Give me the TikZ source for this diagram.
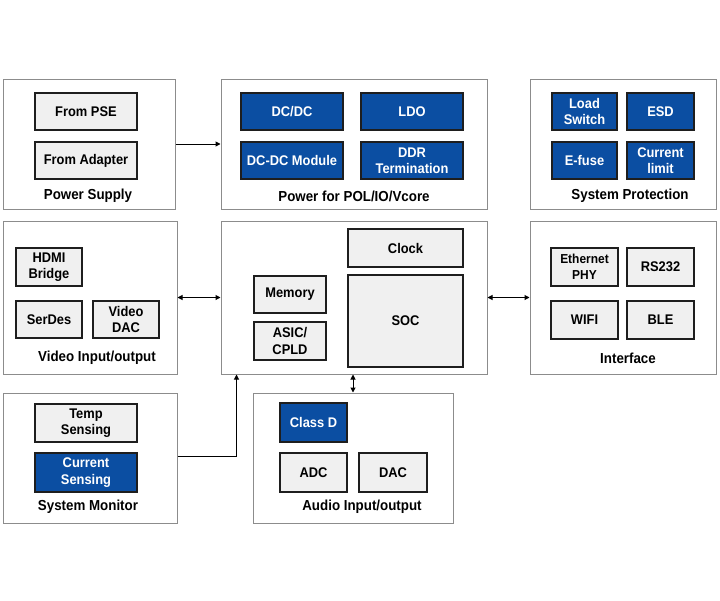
\documentclass[tikz,border=0pt]{standalone}
\usepackage{fontspec}
\setmainfont{Liberation Sans}[FakeStretch=0.92]
\usetikzlibrary{arrows.meta}
\definecolor{tiblue}{HTML}{0B4EA2}
\definecolor{boxgray}{HTML}{F0F0F0}
\definecolor{outline}{HTML}{8C8C8C}
\definecolor{inline}{HTML}{1E1E1E}
\tikzset{
  group/.style={draw=outline, line width=1pt, fill=white, rectangle, inner sep=0pt},
  graybox/.style={draw=inline, line width=1.5pt, fill=boxgray, rectangle, inner sep=0pt, align=center,
    font=\fontsize{14}{16.5}\selectfont\bfseries, text=black},
  bluebox/.style={draw=inline, line width=1.5pt, fill=tiblue, rectangle, inner sep=0pt, align=center,
    font=\fontsize{14}{16.5}\selectfont\bfseries, text=white},
  grouplabel/.style={font=\fontsize{14.5}{16}\selectfont\bfseries, text=black, inner sep=0pt},
  conn/.style={draw=black, line width=1pt, -{Triangle[length=5pt,width=5pt]}},
  dconn/.style={draw=black, line width=1pt, {Triangle[length=5pt,width=5pt]}-{Triangle[length=5pt,width=5pt]}}
}
\begin{document}
\begin{tikzpicture}[x=1pt,y=-1pt]
\useasboundingbox[fill=white] (0,0) rectangle (720,600);

% Power supply
\node[group, minimum width=172, minimum height=130] (ps) at (89,144) {};
\node[graybox, minimum width=102, minimum height=37] (pse) at (86,111.5) {From PSE};
\node[graybox, minimum width=102, minimum height=37] (adapter) at (86,160.5) {From Adapter};
\node[grouplabel] (pslabel) at (88,196) {Power Supply};

% Power for POL
\node[group, minimum width=266, minimum height=130] (pol) at (354,144) {};
\node[bluebox, minimum width=102, minimum height=37] (dcdc) at (292,111.5) {DC/DC};
\node[bluebox, minimum width=102, minimum height=37] (ldo) at (412,111.5) {LDO};
\node[bluebox, minimum width=102, minimum height=37] (dcdcmod) at (292,160.5) {DC-DC Module};
\node[bluebox, minimum width=102, minimum height=37] (ddr) at (412,160.5) {DDR\\Termination};
\node[grouplabel] (pollabel) at (354,196) {Power for POL/IO/Vcore};

% System protection
\node[group, minimum width=186, minimum height=130] (sp) at (623,144) {};
\node[bluebox, minimum width=65, minimum height=37] (load) at (584.5,111.5) {Load\\Switch};
\node[bluebox, minimum width=67, minimum height=37] (esd) at (660.5,111.5) {ESD};
\node[bluebox, minimum width=65, minimum height=37] (efuse) at (584.5,160.5) {E-fuse};
\node[bluebox, minimum width=67, minimum height=37] (curlim) at (660.5,160.5) {Current\\limit};
\node[grouplabel] (splabel) at (630,196) {System Protection};

% Video
\node[group, minimum width=174, minimum height=153] (video) at (90,297.5) {};
\node[graybox, minimum width=66, minimum height=38] (hdmi) at (49,267) {HDMI\\Bridge};
\node[graybox, minimum width=66, minimum height=37] (serdes) at (49,319.5) {SerDes};
\node[graybox, minimum width=66, minimum height=37] (vdac) at (126,319.5) {Video\\DAC};
\node[grouplabel] (videolabel) at (97,358) {Video Input/output};

% Center
\node[group, minimum width=266, minimum height=153] (center) at (354,297.5) {};
\node[graybox, minimum width=115, minimum height=38] (clock) at (405.5,248) {Clock};
\node[graybox, minimum width=115, minimum height=92] (soc) at (405.5,321) {SOC};
\node[graybox, minimum width=72, minimum height=37] (memory) at (290,294.5) {Memory};
\node[graybox, minimum width=72, minimum height=38] (asic) at (290,341) {ASIC/\\CPLD};

% Interface
\node[group, minimum width=186, minimum height=153] (iface) at (623,297.5) {};
\node[graybox, minimum width=67, minimum height=38, font=\fontsize{13}{16}\selectfont\bfseries] (eth) at (584.5,267) {Ethernet\\PHY};
\node[graybox, minimum width=67, minimum height=38] (rs232) at (660.5,267) {RS232};
\node[graybox, minimum width=67, minimum height=38] (wifi) at (584.5,320) {WIFI};
\node[graybox, minimum width=67, minimum height=38] (ble) at (660.5,320) {BLE};
\node[grouplabel] (ifacelabel) at (628,358) {Interface};

% System monitor
\node[group, minimum width=174, minimum height=130] (sm) at (90,458) {};
\node[graybox, minimum width=102, minimum height=38] (temp) at (86,423) {Temp\\Sensing};
\node[bluebox, minimum width=102, minimum height=39] (cursens) at (86,472.5) {Current\\Sensing};
\node[grouplabel] (smlabel) at (88,507) {System Monitor};

% Audio
\node[group, minimum width=200, minimum height=130] (audio) at (353,458) {};
\node[bluebox, minimum width=67, minimum height=39] (classd) at (313.5,422.5) {Class D};
\node[graybox, minimum width=67, minimum height=39] (adc) at (313.5,472.5) {ADC};
\node[graybox, minimum width=68, minimum height=39] (dac) at (393,472.5) {DAC};
\node[grouplabel] (audiolabel) at (362,507) {Audio Input/output};

% Connectors
\draw[conn] ([yshift=2pt]sm.east) -| ([xshift=16pt]center.south west);
\draw[conn] (ps.east) -- (pol.west);
\draw[dconn] (video.east) -- (center.west);
\draw[dconn] (center.east) -- (iface.west);
\draw[dconn] (audio.north) -- (audio.north |- center.south);
\end{tikzpicture}
\end{document}
